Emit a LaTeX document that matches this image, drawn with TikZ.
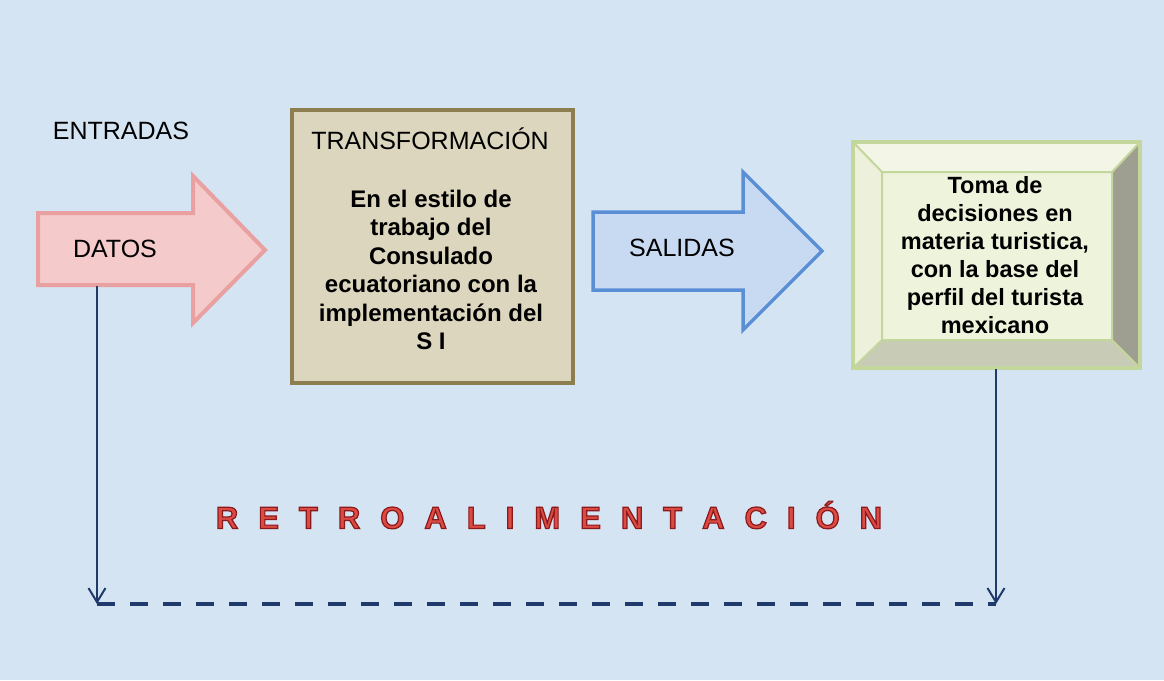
\documentclass[tikz,border=0pt]{standalone}
\usepackage{fontspec}
\setmainfont{Liberation Sans}
\usetikzlibrary{arrows.meta}
\definecolor{bgblue}{HTML}{D5E4F3}
\definecolor{pinkfill}{HTML}{F4CACA}
\definecolor{pinkdraw}{HTML}{E8A0A0}
\definecolor{khakifill}{HTML}{DCD6BE}
\definecolor{khakidraw}{HTML}{8C7E4F}
\definecolor{bluefill}{HTML}{C8DAF1}
\definecolor{bluedraw}{HTML}{5A8FD6}
\definecolor{navy}{HTML}{1F3A6B}
\definecolor{retrored}{HTML}{DC4A44}
\definecolor{bevface}{HTML}{EEF3DC}
\definecolor{bevtop}{HTML}{F3F6E6}
\definecolor{bevleft}{HTML}{EDF1DC}
\definecolor{bevright}{HTML}{9E9F90}
\definecolor{bevbottom}{HTML}{C8CBB6}
\definecolor{bevline}{HTML}{C3D69B}
\newcommand\lsp{\hspace{20pt}}
\newcommand\outlineon{\special{pdf:literal direct 2 Tr 1.2 w 0.55 0.1 0.1 RG}}
\newcommand\outlineoff{\special{pdf:literal direct 0 Tr}}
\begin{document}
\begin{tikzpicture}[x=1pt,y=-1pt,
  lbl/.style={font=\fontsize{25}{30}\selectfont, text=black, inner sep=0pt},
  body/.style={font=\fontsize{24}{28.5}\selectfont\bfseries, text=black, align=center, inner sep=0pt},
  fb/.style={navy, line width=2pt, -{Straight Barb[length=14pt,width=17pt,line width=2pt]}},
  fbdash/.style={navy, line width=4.5pt, dash pattern=on 18pt off 15pt}]
\useasboundingbox (0,0) rectangle (1164,680);
\fill[bgblue] (0,0) rectangle (1164,680);

% DATOS arrow
\draw[pinkdraw, fill=pinkfill, line width=4pt, line join=miter]
  (38,213) -- (193,213) -- (193,176) -- (265,250) -- (193,323) -- (193,285) -- (38,285) -- cycle;
\node[lbl] (datos) at (115,249) {DATOS};
\node[lbl] (entradas) at (121,131) {ENTRADAS};

% TRANSFORMACION box
\draw[khakidraw, fill=khakifill, line width=3.5pt] (292,110) rectangle (573,383);
\node[lbl] (transfT) at (430,139) {TRANSFORMACIÓN};
\node[body] (transf) at (431,270) {En el estilo de\\trabajo del\\Consulado\\ecuatoriano con la\\implementación del\\S I};

% SALIDAS arrow
\draw[bluedraw, fill=bluefill, line width=3.5pt, line join=miter]
  (593,212) -- (743,212) -- (743,172) -- (822,251) -- (743,330) -- (743,290) -- (593,290) -- cycle;
\node[lbl] (salidas) at (682,248) {SALIDAS};

% Bevel box
\fill[bevface] (882,172) rectangle (1112,340);
\fill[bevtop] (853,142) -- (1140,142) -- (1112,172) -- (882,172) -- cycle;
\fill[bevleft] (853,142) -- (882,172) -- (882,340) -- (853,368) -- cycle;
\fill[bevright] (1140,142) -- (1140,368) -- (1112,340) -- (1112,172) -- cycle;
\fill[bevbottom] (853,368) -- (1140,368) -- (1112,340) -- (882,340) -- cycle;
\draw[bevline, line width=2pt] (882,172) rectangle (1112,340)
  (853,142) -- (882,172) (1140,142) -- (1112,172) (853,368) -- (882,340) (1140,368) -- (1112,340);
\draw[bevline, line width=3.5pt] (853,142) rectangle (1140,368);
\node[body, font=\fontsize{23.5}{28}\selectfont\bfseries] (toma) at (995,255) {Toma de\\decisiones en\\materia turistica,\\con la base del\\perfil del turista\\mexicano};

% Retroalimentacion
\node[inner sep=0pt, text=retrored, font=\fontsize{31}{34}\selectfont\bfseries] (retro) at (549,515)
  {\outlineon R\lsp E\lsp T\lsp R\lsp O\lsp A\lsp L\lsp I\lsp M\lsp E\lsp N\lsp T\lsp A\lsp C\lsp I\lsp Ó\lsp N\outlineoff};

% feedback connectors
\coordinate (datosB) at (97,286);
\coordinate (fbL) at (97,604);
\coordinate (tomaB) at (996,369);
\coordinate (fbR) at (996,604);
\draw[fb] (datosB) -- (fbL);
\draw[fb] (tomaB) -- (fbR);
\draw[fbdash] (fbL) -- (fbR);
\end{tikzpicture}
\end{document}
